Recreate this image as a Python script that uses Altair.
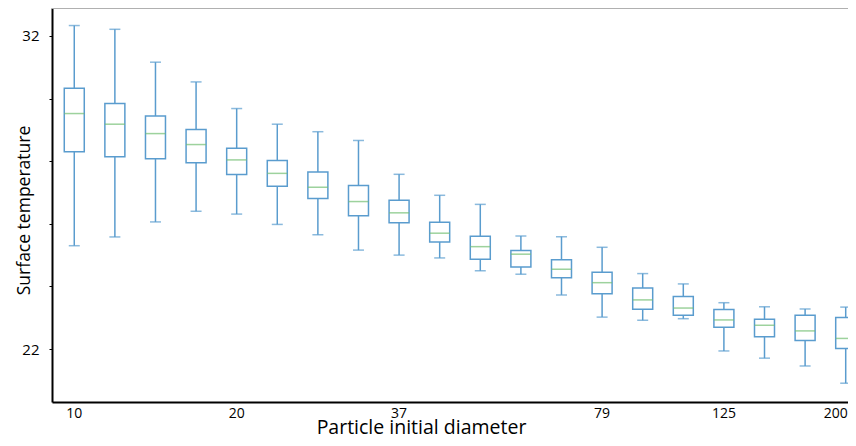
import altair as alt
import pandas as pd

diameters = ["10", "12", "14", "17", "20", "23", "27", "32", "37", "43",
             "50", "58", "68", "79", "92", "107", "125", "146", "171", "200"]
whisker_high = [32.33, 32.21, 31.16, 30.53, 29.68, 29.18, 28.94, 28.66, 27.58, 26.91,
                26.62, 25.61, 25.59, 25.25, 24.41, 24.08, 23.48, 23.35, 23.28, 23.34]
q3 = [30.33, 29.84, 29.44, 29.01, 28.41, 28.02, 27.65, 27.22, 26.75, 26.05,
      25.60, 25.15, 24.85, 24.45, 23.95, 23.68, 23.26, 22.95, 23.08, 23.01]
median = [29.52, 29.18, 28.88, 28.53, 28.04, 27.61, 27.17, 26.71, 26.35, 25.70,
          25.27, 25.03, 24.55, 24.12, 23.57, 23.31, 22.93, 22.76, 22.58, 22.34]
q1 = [28.30, 28.14, 28.08, 27.95, 27.57, 27.20, 26.81, 26.26, 26.03, 25.42,
      24.87, 24.62, 24.28, 23.77, 23.27, 23.08, 22.70, 22.39, 22.27, 22.02]
whisker_low = [25.30, 25.58, 26.06, 26.40, 26.31, 25.98, 25.65, 25.16, 25.00, 24.91,
               24.50, 24.39, 23.73, 23.02, 22.92, 22.97, 21.94, 21.71, 21.46, 20.91]
x_labels = ["10", "20", "37", "79", "125", "200"]
y_ticks = [22, 24, 26, 28, 30, 32]

df = pd.DataFrame({
    "diameter": diameters, "hi": whisker_high, "q3": q3,
    "med": median, "q1": q1, "lo": whisker_low,
})

FONT = "Open Sans"
BLUE = "#5a9cce"
GREEN = "#74bf74"
W, H = 796, 394

x_axis = alt.Axis(values=x_labels, title="Particle initial diameter", ticks=False,
                  labelAngle=0, labelFontSize=14, labelColor="black", labelPadding=4,
                  labelAlign={"expr": "datum.value == '200' ? 'right' : 'center'"},
                  labelOffset={"expr": "datum.value == '200' ? 2 : 0"},
                  domainColor="black", domainWidth=2, titleFontSize=19.5,
                  titleFontWeight="normal", titleColor="black", titleX=369, titleY=31,
                  titleBaseline="alphabetic", titleAlign="center", grid=False)
x_enc = alt.X("diameter:N", sort=diameters,
              scale=alt.Scale(domain=diameters, paddingInner=0.887, paddingOuter=0.246, align=1),
              axis=x_axis)

y_scale = alt.Scale(domain=[20.31, 32.89], nice=False, zero=False)
y_axis = alt.Axis(values=y_ticks, title="Surface temperature", tickSize=3, tickColor="black",
                  labelExpr="datum.value == 22 || datum.value == 32 ? datum.label : ''",
                  labelFontSize=15, labelColor="black", labelPadding=10,
                  domainColor="black", domainWidth=2, grid=False,
                  titleFontSize=17.5, titleFontWeight="normal", titleColor="black",
                  titleAngle=270, titleX=-23, titleY=202, titleBaseline="alphabetic",
                  titleAlign="center")

base = alt.Chart(df)

whisk_low = base.mark_rule(color=BLUE, strokeWidth=1.5).encode(
    x=x_enc, y=alt.Y("lo:Q", scale=y_scale, axis=y_axis), y2="q1:Q")
whisk_high = base.mark_rule(color=BLUE, strokeWidth=1.5).encode(
    x=x_enc, y=alt.Y("q3:Q", scale=y_scale, axis=y_axis), y2="hi:Q")
box = base.mark_bar(size=20, fill="white", stroke=BLUE, strokeWidth=1.5).encode(
    x=x_enc, y=alt.Y("q1:Q", scale=y_scale, axis=y_axis), y2="q3:Q")
med = base.mark_tick(color=GREEN, size=20, thickness=1.5).encode(
    x=x_enc, y=alt.Y("med:Q", scale=y_scale, axis=y_axis))
cap_lo = base.mark_tick(color=BLUE, size=11, thickness=1.5).encode(
    x=x_enc, y=alt.Y("lo:Q", scale=y_scale, axis=y_axis))
cap_hi = base.mark_tick(color=BLUE, size=11, thickness=1.5).encode(
    x=x_enc, y=alt.Y("hi:Q", scale=y_scale, axis=y_axis))

top = alt.Chart(pd.DataFrame({"a": [0]})).mark_rule(color="#b0b0b0", strokeWidth=2).encode(
    x=alt.value(0), x2=alt.value(W), y=alt.value(0))

chart = alt.layer(whisk_low, whisk_high, box, med, cap_lo, cap_hi, top).properties(
    width=W, height=H,
    autosize=alt.AutoSizeParams(type="none"),
    padding={"left": 44, "top": 0, "right": 0, "bottom": 38},
    background="white",
).configure(font=FONT).configure_view(stroke=None)

chart.save("out.html", embed_options={"renderer": "svg", "actions": False})
